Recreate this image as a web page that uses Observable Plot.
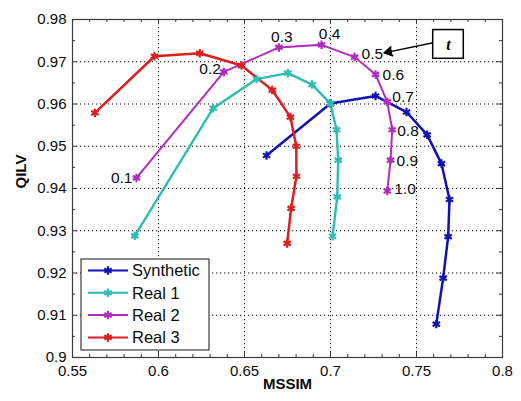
<!DOCTYPE html>
<html>
<head>
<meta charset="utf-8">
<script src="https://cdn.jsdelivr.net/npm/d3@7"></script>
<script src="https://cdn.jsdelivr.net/npm/@observablehq/plot@0.6"></script>
<style>
  html, body { margin: 0; padding: 0; background: #fff; }
  #chart { width: 521px; height: 401px; }
  #chart svg { font-family: "Liberation Sans", Arial, sans-serif; }
</style>
</head>
<body>
<div id="chart"></div>
<script>
// Parameter t for each point along the curves
const tLabels = ["0.1", "0.2", "0.3", "0.4", "0.5", "0.6", "0.7", "0.8", "0.9", "1.0"];

// MSSIM (x) and QILV (y) for each series
const synX   = [0.6628, 0.7000, 0.7262, 0.7442, 0.7562, 0.7645, 0.7692, 0.7684, 0.7655, 0.7615];
const synY   = [0.9478, 0.9601, 0.9619, 0.9581, 0.9527, 0.9459, 0.9374, 0.9286, 0.9188, 0.9079];
const real1X = [0.5862, 0.6318, 0.6570, 0.6752, 0.6893, 0.7000, 0.7035, 0.7045, 0.7039, 0.7012];
const real1Y = [0.9288, 0.9590, 0.9659, 0.9673, 0.9646, 0.9601, 0.9539, 0.9467, 0.9380, 0.9287];
const real2X = [0.5872, 0.6380, 0.6700, 0.6948, 0.7140, 0.7262, 0.7330, 0.7359, 0.7349, 0.7330];
const real2Y = [0.9425, 0.9676, 0.9734, 0.9740, 0.9711, 0.9670, 0.9605, 0.9539, 0.9467, 0.9394];
const real3X = [0.5630, 0.5977, 0.6240, 0.6483, 0.6661, 0.6767, 0.6801, 0.6802, 0.6771, 0.6748];
const real3Y = [0.9579, 0.9713, 0.9720, 0.9691, 0.9633, 0.9569, 0.9500, 0.9429, 0.9353, 0.9270];

const seriesNames = ["Synthetic", "Real 1", "Real 2", "Real 3"];

// Axis ticks
const xMajor = [0.55, 0.6, 0.65, 0.7, 0.75, 0.8];
const yMajor = [0.9, 0.91, 0.92, 0.93, 0.94, 0.95, 0.96, 0.97, 0.98];
const xTickLabels = ["0.55", "0.6", "0.65", "0.7", "0.75", "0.8"];
const yTickLabels = ["0.9", "0.91", "0.92", "0.93", "0.94", "0.95", "0.96", "0.97", "0.98"];
const xMinor = d3.range(55, 81).map(v => v / 100);
const yMinor = d3.range(180, 197).map(v => v / 200);

// ---- styling ----
const colors = ["#1212b4", "#2dbdb3", "#b02cc0", "#dd1e1e"];
const lineWidths = [2.5, 2.4, 2, 2.5];
const W = 521, H = 401;
const M = {top: 19, right: 19, bottom: 44, left: 72};
const innerW = W - M.left - M.right, innerH = H - M.top - M.bottom;

const seriesXY = [[synX, synY], [real1X, real1Y], [real2X, real2Y], [real3X, real3Y]];
const rows = seriesXY.flatMap(([xs, ys], s) =>
  xs.map((x, i) => ({series: seriesNames[s], x, y: ys[i], t: tLabels[i]})));

// label placement around the Real 2 points: [textAnchor, dx, dy]
const tPlacement = [
  ["end", -4, 0], ["end", -3, -3], ["middle", 3, -10], ["middle", 8, -11], ["start", 7, -3],
  ["start", 7, 1], ["start", 5, -5], ["start", 5, 1], ["start", 6, 1], ["start", 7, -2]
];

// the "t" call-out box and its arrow, in data units
const callout = {x1: 0.7597, x2: 0.7775, y1: 0.9707, y2: 0.9775, ax: 0.7597, ay: 0.9745, bx: 0.7312, by: 0.9721};

const gridX = xMajor.slice(1, -1);
const gridY = yMajor.slice(1, -1);
const isMajorX = v => xMajor.some(m => Math.abs(m - v) < 1e-9);
const isMajorY = v => yMajor.some(m => Math.abs(m - v) < 1e-9);

const fmtX = d => xTickLabels[xMajor.findIndex(m => Math.abs(m - d) < 1e-9)];
const fmtY = d => yTickLabels[yMajor.findIndex(m => Math.abs(m - d) < 1e-9)];

const tickLen = v => v ? 5 : 3;
const axisColor = "#3a3a3a";
const textColor = "#0a0a0a";

const real2Rows = rows.filter(d => d.series === "Real 2");

const plot = Plot.plot({
  width: W,
  height: H,
  marginTop: M.top, marginRight: M.right, marginBottom: M.bottom, marginLeft: M.left,
  x: {domain: [0.55, 0.8]},
  y: {domain: [0.9, 0.98]},
  style: {background: "#fff", fontFamily: "Liberation Sans, Arial, sans-serif"},
  marks: [
    // dotted grid at the major ticks
    Plot.ruleX(gridX, {stroke: "#000", strokeWidth: 1, strokeDasharray: "1.2,2.8"}),
    Plot.ruleY(gridY, {stroke: "#000", strokeWidth: 1, strokeDasharray: "1.2,2.8"}),
    // inward tick marks on all four sides
    ...[true, false].flatMap(major => {
      const xs = xMinor.filter(v => isMajorX(v) === major);
      const ys = yMinor.filter(v => isMajorY(v) === major);
      const L = tickLen(major);
      return [
        Plot.ruleX(xs, {stroke: axisColor, insetTop: innerH - L}),
        Plot.ruleX(xs, {stroke: axisColor, insetBottom: innerH - L}),
        Plot.ruleY(ys, {stroke: axisColor, insetRight: innerW - L}),
        Plot.ruleY(ys, {stroke: axisColor, insetLeft: innerW - L})
      ];
    }),
    Plot.frame({stroke: axisColor, strokeWidth: 1.2}),
    // tick labels
    Plot.axisX(xMajor, {tickSize: 0, tickPadding: 8, tickFormat: fmtX, fontSize: 15, color: textColor, label: null}),
    Plot.axisY(yMajor, {tickSize: 0, tickPadding: 6, tickFormat: fmtY, fontSize: 15, color: textColor, label: null}),
    // axis titles
    Plot.text(["MSSIM"], {frameAnchor: "bottom", dy: 31, fontSize: 15, fontWeight: "bold", fill: textColor}),
    Plot.text(["QILV"], {frameAnchor: "left", dx: -51, rotate: -90, fontSize: 15, fontWeight: "bold", fill: textColor}),
    // curves
    ...seriesNames.map((name, s) => Plot.line(rows.filter(d => d.series === name),
      {x: "x", y: "y", stroke: colors[s], strokeWidth: lineWidths[s], strokeLinejoin: "round"})),
    ...seriesNames.map((name, s) => Plot.dot(rows.filter(d => d.series === name),
      {x: "x", y: "y", symbol: "asterisk", r: 4, stroke: colors[s], strokeWidth: 2.2})),
    // t values along Real 2
    ...real2Rows.map((d, i) => Plot.text([d], {
      x: "x", y: "y", text: "t",
      textAnchor: tPlacement[i][0], dx: tPlacement[i][1], dy: tPlacement[i][2],
      fontSize: 15.5, fill: textColor
    })),
    // call-out box with arrow
    Plot.arrow([callout], {x1: "ax", y1: "ay", x2: "bx", y2: "by", stroke: "#000", strokeWidth: 1.5, headLength: 9, bend: 0}),
    Plot.dot([callout], {x: "bx", y: "by", symbol: "triangle2", r: 3.6, rotate: -101, dx: 5, dy: -1, fill: "#000", stroke: "#000", strokeWidth: 1}),
    Plot.rect([callout], {x1: "x1", x2: "x2", y1: "y1", y2: "y2", fill: "#fff", stroke: "#000", strokeWidth: 1.5}),
    Plot.text([callout], {x: d => (d.x1 + d.x2) / 2, y: d => (d.y1 + d.y2) / 2, text: () => "t",
      fontSize: 16, fontWeight: "bold", fontStyle: "italic", fontFamily: "Liberation Serif, Times New Roman, serif", fill: "#000"})
  ]
});

document.getElementById("chart").appendChild(plot);

// legend box in the lower-left corner of the plot area
const svg = d3.select(plot);
const lg = svg.append("g").attr("transform", "translate(81,259)");
lg.append("rect").attr("width", 128).attr("height", 91)
  .attr("fill", "#fff").attr("stroke", axisColor).attr("stroke-width", 1.2);
seriesNames.forEach((name, s) => {
  const y = 11.5 + s * 22.3;
  lg.append("line").attr("x1", 7).attr("x2", 47).attr("y1", y).attr("y2", y)
    .attr("stroke", colors[s]).attr("stroke-width", 2);
  lg.append("path").attr("transform", `translate(27,${y})`)
    .attr("d", d3.symbol(d3.symbolAsterisk, 50)())
    .attr("fill", "none").attr("stroke", colors[s]).attr("stroke-width", 2.2);
  lg.append("text").attr("x", 51).attr("y", y).attr("dy", "0.35em")
    .attr("text-anchor", "start")
    .attr("font-size", 16.5).attr("fill", textColor).text(name);
});
</script>
</body>
</html>
